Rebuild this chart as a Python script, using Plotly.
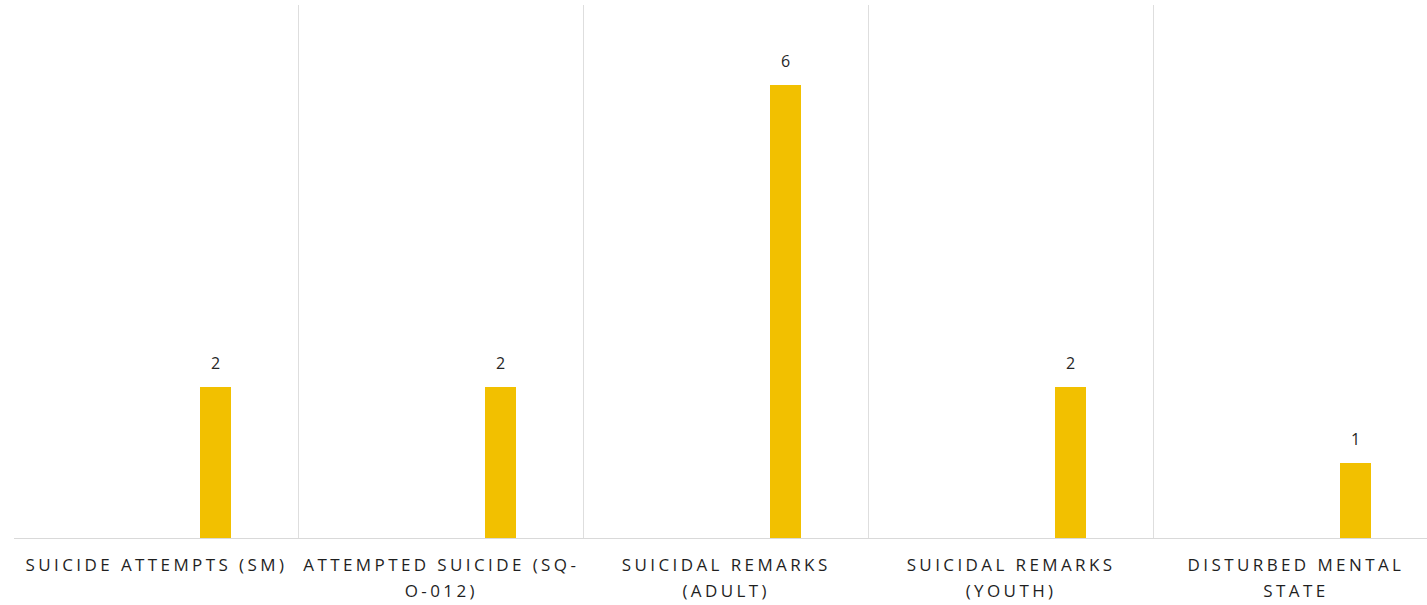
import plotly.graph_objects as go

categories = [
    "SUICIDE ATTEMPTS (SM)",
    "ATTEMPTED SUICIDE (SQ-<br>O-012)",
    "SUICIDAL REMARKS<br>(ADULT)",
    "SUICIDAL REMARKS<br>(YOUTH)",
    "DISTURBED MENTAL<br>STATE",
]
values = [2, 2, 6, 2, 1]
value_labels = ["2", "2", "6", "2", "1"]

BAR_W = 0.109
BAR_OFF = 0.153

fig = go.Figure()
fig.add_trace(go.Bar(
    x=categories,
    y=values,
    marker=dict(color="#F2C000", line=dict(width=0)),
    width=BAR_W,
    offset=BAR_OFF,
    showlegend=False,
    hoverinfo="x+y",
))

for i, (v, lab) in enumerate(zip(values, value_labels)):
    fig.add_annotation(
        x=i + BAR_OFF + BAR_W / 2, y=v, xref="x", yref="y",
        text=lab, showarrow=False, yanchor="bottom", yshift=11,
        font=dict(family="Open Sans", size=16, color="#262626"),
    )

fig.update_layout(
    width=1427,
    height=605,
    margin=dict(l=14, r=0, t=5, b=67, autoexpand=False),
    paper_bgcolor="white",
    plot_bgcolor="white",
    bargap=0,
    xaxis=dict(
        type="category",
        range=[-0.5, 4.46],
        tickson="boundaries",
        showgrid=True,
        gridcolor="#DEDEDE",
        gridwidth=1,
        showline=True,
        linecolor="#D9D9D9",
        linewidth=1,
        ticks="",
        ticklabelstandoff=12,
        automargin=False,
        tickfont=dict(family="Open Sans", size=17, color="#1F1F1F"),
        zeroline=False,
    ),
    yaxis=dict(
        range=[0, 7.06],
        showgrid=False,
        showticklabels=False,
        zeroline=False,
        showline=False,
        automargin=False,
    ),
)

post = """
document.documentElement.style.margin='0';
document.body.style.margin='0';
document.body.style.overflow='hidden';
var gd = document.getElementById('{plot_id}');
gd.querySelectorAll('.xtick text').forEach(function(t){
  t.style.letterSpacing='3.4px';
  var lines = t.querySelectorAll('tspan.line');
  lines.forEach(function(l, k){ if (k > 0) { l.setAttribute('dy', (k * 1.52) + 'em'); } });
});
"""
fig.write_html("out.html", post_script=post, config={"displayModeBar": False})
